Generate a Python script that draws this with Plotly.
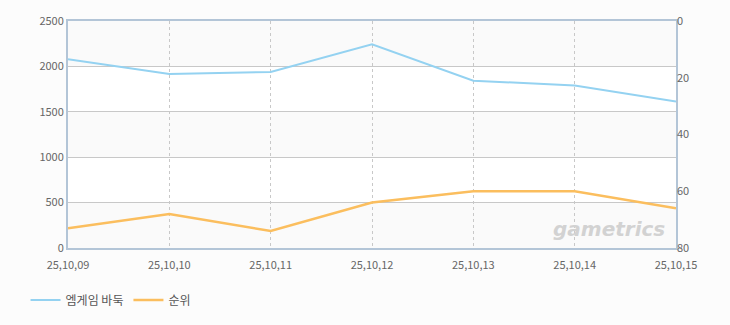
import plotly.graph_objects as go

dates = ["25,10,09", "25,10,10", "25,10,11", "25,10,12", "25,10,13", "25,10,14", "25,10,15"]
users = [2080, 1916, 1938, 2244, 1843, 1790, 1613]
rank = [73, 68, 74, 64, 60, 60, 66]
left_ticks = [0, 500, 1000, 1500, 2000, 2500]
right_ticks = [0, 20, 40, 60, 80]

idx = list(range(len(dates)))
font = "Noto Sans CJK KR, DejaVu Sans, sans-serif"

fig = go.Figure()
# alternating background bands
for lo, hi in [(0, 500), (1000, 1500), (2000, 2500)]:
    fig.add_shape(type="rect", xref="paper", yref="y", x0=0, x1=1, y0=lo, y1=hi,
                  fillcolor="#fafafa", line_width=0, layer="below")

fig.add_trace(go.Scatter(x=idx, y=users, mode="lines", name="엠게임 바둑",
                         line=dict(color="#94d2f1", width=2), yaxis="y"))
fig.add_trace(go.Scatter(x=idx, y=rank, mode="lines", name="순위",
                         line=dict(color="#fbbe5e", width=2.5), yaxis="y2"))

fig.add_annotation(text="<b><i>gametrics</i></b>", xref="paper", yref="paper",
                   x=0.985, y=0.085, xanchor="right", yanchor="middle", showarrow=False,
                   font=dict(family="DejaVu Sans, sans-serif", size=20, color="#d2d2d2"))

fig.update_layout(
    width=730, height=325,
    margin=dict(l=68, r=54, t=17, b=77),
    paper_bgcolor="#fcfcfc", plot_bgcolor="#ffffff",
    font=dict(family=font, size=11, color="#666666"),
    showlegend=True,
    legend=dict(orientation="h", xref="container", yref="container", x=0.035, y=0.077,
                xanchor="left", yanchor="middle", font=dict(size=12, color="#555555"),
                itemwidth=30, bgcolor="rgba(0,0,0,0)"),
    xaxis=dict(tickmode="array", tickvals=idx, ticktext=dates, range=[0, 6],
               showgrid=True, gridcolor="#c8c8c8", griddash="3px,3px", gridwidth=1,
               showline=True, linecolor="#b3c5d7", linewidth=2, mirror=True,
               zeroline=False, ticks="", ticklabelstandoff=6,
               tickfont=dict(size=11, color="#666666")),
    yaxis=dict(range=[0, 2500], tickvals=left_ticks, showgrid=True, gridcolor="#c8c8c8",
               gridwidth=1, zeroline=False, showline=True, linecolor="#b3c5d7", linewidth=2,
               mirror=True, ticks="", tickfont=dict(size=11, color="#666666")),
    yaxis2=dict(range=[80, 0], tickvals=right_ticks, overlaying="y", side="right",
                showgrid=False, zeroline=False, ticks="", tickfont=dict(size=11, color="#666666")),
)

fig.write_html("out.html")
